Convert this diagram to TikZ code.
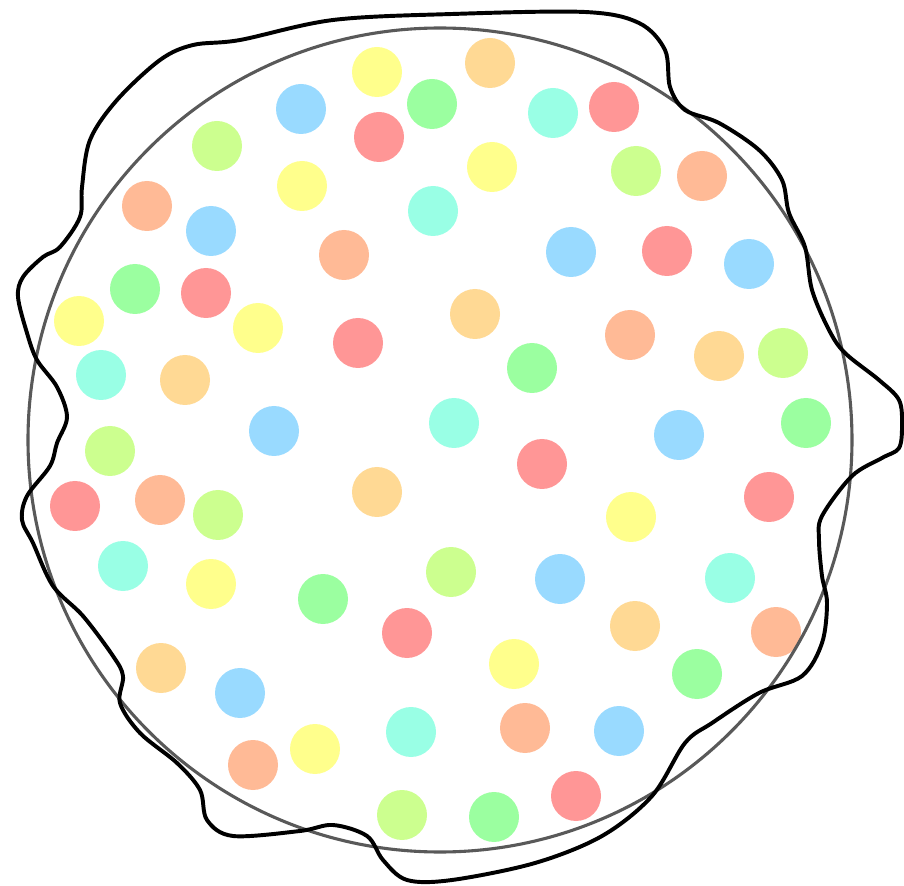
\documentclass[tikz,border=0pt]{standalone}
\usepackage{tikz}
\usetikzlibrary{calc}
\usepackage{xcolor}

\definecolor{dotyellow}{HTML}{FFFF8C}
\definecolor{dotorange}{HTML}{FFD994}
\definecolor{dotsalmon}{HTML}{FFBA96}
\definecolor{dotred}{HTML}{FF9696}
\definecolor{dotlime}{HTML}{CCFF8F}
\definecolor{dotgreen}{HTML}{9BFFA0}
\definecolor{dotcyan}{HTML}{99FFE5}
\definecolor{dotblue}{HTML}{99DAFF}

\begin{document}
\begin{tikzpicture}[x=0.025cm, y=-0.025cm,
    dot/.style={fill=#1, draw=none},
    rim/.style={draw=black!65, line width=2.2pt},
    blob/.style={draw=black, line width=2.8pt, line join=round}]
  % adjustable parameters
  \def\r{412}   % circle radius
  \def\d{25}    % dot radius

  \useasboundingbox (0,0) rectangle (904,886);

  % coloured dots
  \foreach \x/\y/\c in {
      377/72/dotyellow, 490/63/dotorange, 301/109/dotblue, 432/104/dotgreen,
      379/137/dotred, 553/113/dotcyan, 614/107/dotred, 217/146/dotlime,
      492/167/dotyellow, 636/171/dotlime, 702/176/dotsalmon, 302/186/dotyellow,
      147/206/dotsalmon, 433/211/dotcyan, 211/231/dotblue, 344/255/dotsalmon,
      571/252/dotblue, 667/251/dotred, 749/264/dotblue, 135/289/dotgreen,
      206/293/dotred, 79/321/dotyellow, 258/328/dotyellow, 475/314/dotorange,
      358/343/dotred, 630/335/dotsalmon, 532/368/dotgreen, 719/356/dotorange,
      783/353/dotlime, 101/375/dotcyan, 185/380/dotorange, 274/431/dotblue,
      454/423/dotcyan, 679/435/dotblue, 806/423/dotgreen, 110/451/dotlime,
      542/464/dotred, 75/506/dotred, 160/500/dotsalmon, 218/515/dotlime,
      377/492/dotorange, 631/517/dotyellow, 769/497/dotred, 123/566/dotcyan,
      211/584/dotyellow, 323/599/dotgreen, 451/572/dotlime, 560/579/dotblue,
      730/578/dotcyan, 407/633/dotred, 635/626/dotorange, 776/632/dotsalmon,
      161/668/dotorange, 514/664/dotyellow, 697/674/dotgreen, 240/693/dotblue,
      411/732/dotcyan, 525/728/dotsalmon, 619/731/dotblue, 253/765/dotsalmon,
      315/749/dotyellow, 402/815/dotlime, 494/817/dotgreen, 576/796/dotred}
    \fill[dot=\c] (\x,\y) circle (\d);

  % circle
  \draw[rim] (440,440) circle (\r);

  % wavy outline
  \draw[blob] plot[smooth cycle, tension=0.55] coordinates {
      (333,20) (452,14) (585,12) (639,23) (665,50) (670,87) (685,110)
      (719,123) (759,150) (782,180) (789,213) (805,247) (812,290) (829,330)
      (845,353) (879,380) (899,400) (902,425) (899,448) (882,458) (852,476)
      (822,516) (819,540) (822,576) (827,603) (822,643) (802,676) (759,693)
      (712,723) (685,743) (652,796) (602,836) (535,863) (452,880) (407,880)
      (383,860) (367,836) (333,825) (300,831) (233,836) (207,820) (200,790)
      (177,763) (140,733) (120,703) (123,676) (113,656) (83,616) (53,586)
      (33,543) (22,520) (27,496) (50,466) (57,443) (67,417) (57,387)
      (37,360) (27,333) (18,297) (23,277) (43,257) (60,247) (80,217)
      (82,187) (90,140) (117,100) (160,60) (193,45) (240,40)};

\end{tikzpicture}
\end{document}
